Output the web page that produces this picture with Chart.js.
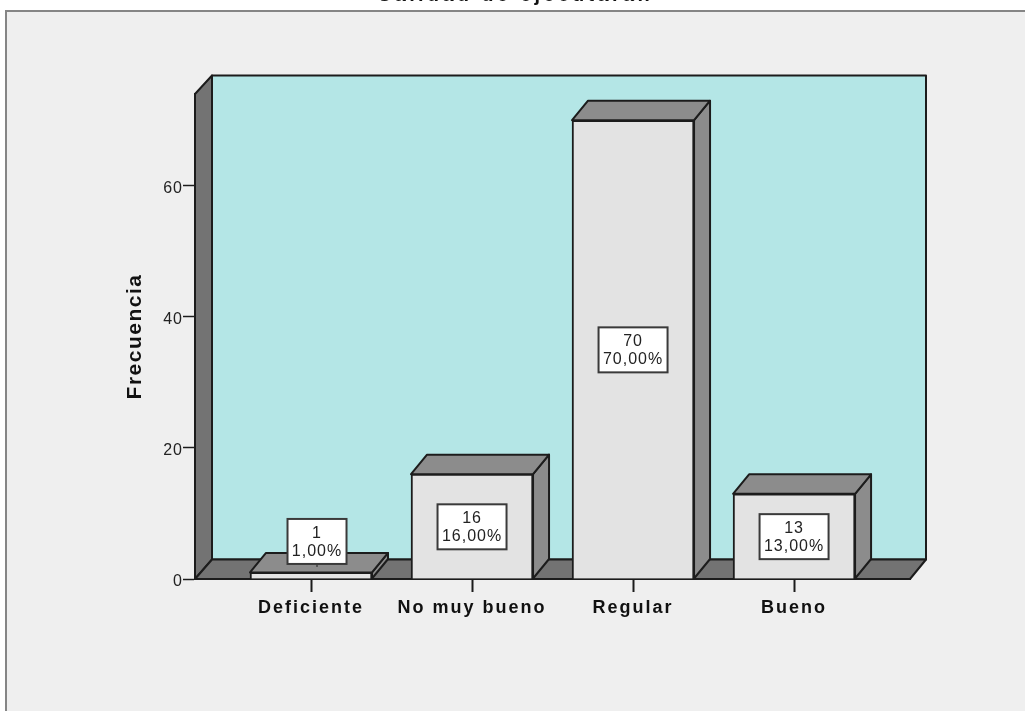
<!DOCTYPE html>
<html lang="es">
<head>
<meta charset="utf-8">
<title>Calidad de ejecutarán</title>
<style>
html,body{margin:0;padding:0;background:#fff;overflow:hidden}
canvas{display:block;filter:blur(0.35px)}
</style>
<script src="https://cdn.jsdelivr.net/npm/chart.js@4"></script>
</head>
<body>
<canvas id="c" width="1025" height="711"></canvas>
<script>
const chartTitle = "Calidad de ejecutarán";
const yAxisTitle = "Frecuencia";
const categories = ["Deficiente", "No muy bueno", "Regular", "Bueno"];
const frequencies = [1, 16, 70, 13];
const percentLabels = ["1,00%", "16,00%", "70,00%", "13,00%"];

const DEPTH_X = 16, DEPTH_Y = 19.5;
const INK = "#1c1c1c";
const FONT = "'Liberation Sans', Arial, sans-serif";

function poly(ctx, pts, fill, lw) {
  ctx.beginPath();
  pts.forEach((p, i) => i ? ctx.lineTo(p[0], p[1]) : ctx.moveTo(p[0], p[1]));
  ctx.closePath();
  ctx.fillStyle = fill;
  ctx.fill();
  ctx.strokeStyle = INK;
  ctx.lineWidth = lw || 2;
  ctx.lineJoin = "round";
  ctx.stroke();
}

// Chart.js has no letter-spacing option, so the scale's text passes are wrapped.
function styleScaleText(scale, labelSpacing, labelShiftY, titleSpacing) {
  if (scale._textStyled) return;
  scale._textStyled = true;
  const drawLabels = scale.drawLabels, drawTitle = scale.drawTitle;
  scale.drawLabels = function (a) {
    const c = this.ctx;
    c.save();
    c.letterSpacing = labelSpacing;
    c.translate(0, labelShiftY);
    drawLabels.call(this, a);
    c.restore();
  };
  scale.drawTitle = function (a) {
    const c = this.ctx;
    c.save();
    c.letterSpacing = titleSpacing;
    drawTitle.call(this, a);
    c.restore();
  };
}

const scene = {
  id: "scene",
  beforeDraw(chart) {
    const { ctx, chartArea: a } = chart;
    ctx.letterSpacing = "3.3px"; // chart title
    ctx.save();
    ctx.letterSpacing = "0px";
    // outer frame panel
    ctx.fillStyle = "#efefef";
    ctx.fillRect(6, 11, 1025, 711);
    ctx.fillStyle = "#858585";
    ctx.fillRect(5, 10, 1020, 2);
    ctx.fillRect(5, 10, 2, 701);
    // back wall, side wall, floor
    const L = a.left, R = a.right, T = a.top, B = a.bottom;
    poly(ctx, [[L + DEPTH_X + 1, T - DEPTH_Y + 1], [R + DEPTH_X, T - DEPTH_Y + 1], [R + DEPTH_X, B - DEPTH_Y], [L + DEPTH_X + 1, B - DEPTH_Y]], "#b4e6e6");
    poly(ctx, [[L, T], [L + DEPTH_X + 1, T - DEPTH_Y + 1], [L + DEPTH_X + 1, B - DEPTH_Y], [L, B]], "#737373");
    poly(ctx, [[L, B], [L + DEPTH_X + 1, B - DEPTH_Y], [R + DEPTH_X, B - DEPTH_Y], [R, B]], "#737373");
    ctx.restore();
  },
  beforeDatasetsDraw(chart) {
    const { ctx } = chart;
    ctx.save();
    chart.getDatasetMeta(0).data.forEach(bar => {
      const { x, y, base, width } = bar.getProps(["x", "y", "base", "width"], true);
      const l = x - width / 2, r = x + width / 2;
      poly(ctx, [[r, y], [r + DEPTH_X, y - DEPTH_Y], [r + DEPTH_X, base - DEPTH_Y], [r, base]], "#8c8c8c");
      poly(ctx, [[l, y], [l + DEPTH_X, y - DEPTH_Y], [r + DEPTH_X, y - DEPTH_Y], [r, y]], "#8c8c8c");
    });
    ctx.restore();
  },
  afterDatasetsDraw(chart) {
    const { ctx } = chart;
    const BOX_H = 45, LINE = 9, LIFT_GAP = 31, LIFT_DX = 6, TEXT_DY = 1;
    ctx.save();
    ctx.letterSpacing = "1px";
    ctx.font = "16px " + FONT;
    ctx.textAlign = "center";
    ctx.textBaseline = "middle";
    chart.getDatasetMeta(0).data.forEach((bar, i) => {
      const { x, y, base } = bar.getProps(["x", "y", "base"], true);
      const small = base - y < BOX_H;
      const cx = small ? x + LIFT_DX : x;
      const cy = small ? y - LIFT_GAP : (y + base) / 2 + 0.5;
      const w = Math.round(ctx.measureText(percentLabels[i]).width) + 9;
      if (small) {
        ctx.strokeStyle = INK; ctx.lineWidth = 1;
        ctx.beginPath(); ctx.moveTo(x + LIFT_DX, cy + BOX_H / 2); ctx.lineTo(x + LIFT_DX, cy + BOX_H / 2 + 3); ctx.stroke();
      }
      ctx.fillStyle = "#fff";
      ctx.fillRect(cx - w / 2, cy - BOX_H / 2, w, BOX_H);
      ctx.strokeStyle = "#3a3a3a"; ctx.lineWidth = 2;
      ctx.strokeRect(cx - w / 2, cy - BOX_H / 2, w, BOX_H);
      ctx.fillStyle = "#222";
      ctx.fillText(String(frequencies[i]), cx, cy - LINE + TEXT_DY);
      ctx.fillText(percentLabels[i], cx, cy + LINE + TEXT_DY);
    });
    ctx.restore();
  }
};

new Chart(document.getElementById("c"), {
  type: "bar",
  data: {
    datasets: [{
      data: categories.map((c, i) => ({ x: i + 1, y: frequencies[i] })),
      backgroundColor: "#e3e3e3",
      borderColor: INK,
      borderWidth: 2,
      barThickness: 122
    }]
  },
  options: {
    responsive: false,
    animation: false,
    layout: { padding: { left: 120, right: 115, top: 0, bottom: 0 } },
    plugins: {
      legend: { display: false },
      tooltip: { enabled: false },
      title: {
        display: true,
        text: chartTitle,
        color: "#111",
        font: { family: FONT, size: 20, weight: "bold" },
        padding: { top: -17, bottom: 87 }
      }
    },
    scales: {
      x: {
        type: "linear",
        offset: false,
        min: 0.2795,
        max: 4.72,
        afterFit(s) { s.height = 132; },
        afterBuildTicks(s) { s.ticks = categories.map((c, i) => ({ value: i + 1 })); },
        afterUpdate(s) { styleScaleText(s, "2px", 0, "0px"); },
        grid: { offset: false, drawOnChartArea: false, tickLength: 13, tickColor: INK, tickWidth: 2 },
        border: { color: INK, width: 2 },
        ticks: {
          autoSkip: false, maxRotation: 0, padding: 5, color: "#111",
          font: { family: FONT, size: 18, weight: "bold" },
          callback: v => categories[v - 1]
        }
      },
      y: {
        min: 0,
        max: 74,
        afterFit(s) { s.width = 75; },
        afterUpdate(s) { styleScaleText(s, "1px", 2.5, "1.5px"); },
        grid: { drawOnChartArea: false, tickLength: 12, tickColor: INK, tickWidth: 1.5 },
        border: { color: INK, width: 2 },
        title: {
          display: true,
          text: yAxisTitle,
          color: "#111",
          font: { family: FONT, size: 21, weight: "bold" },
          padding: { top: 3, bottom: 0 }
        },
        ticks: {
          stepSize: 20, includeBounds: false, padding: 0, color: "#222",
          font: { family: FONT, size: 16 }
        }
      }
    }
  },
  plugins: [scene]
});
</script>
</body>
</html>
